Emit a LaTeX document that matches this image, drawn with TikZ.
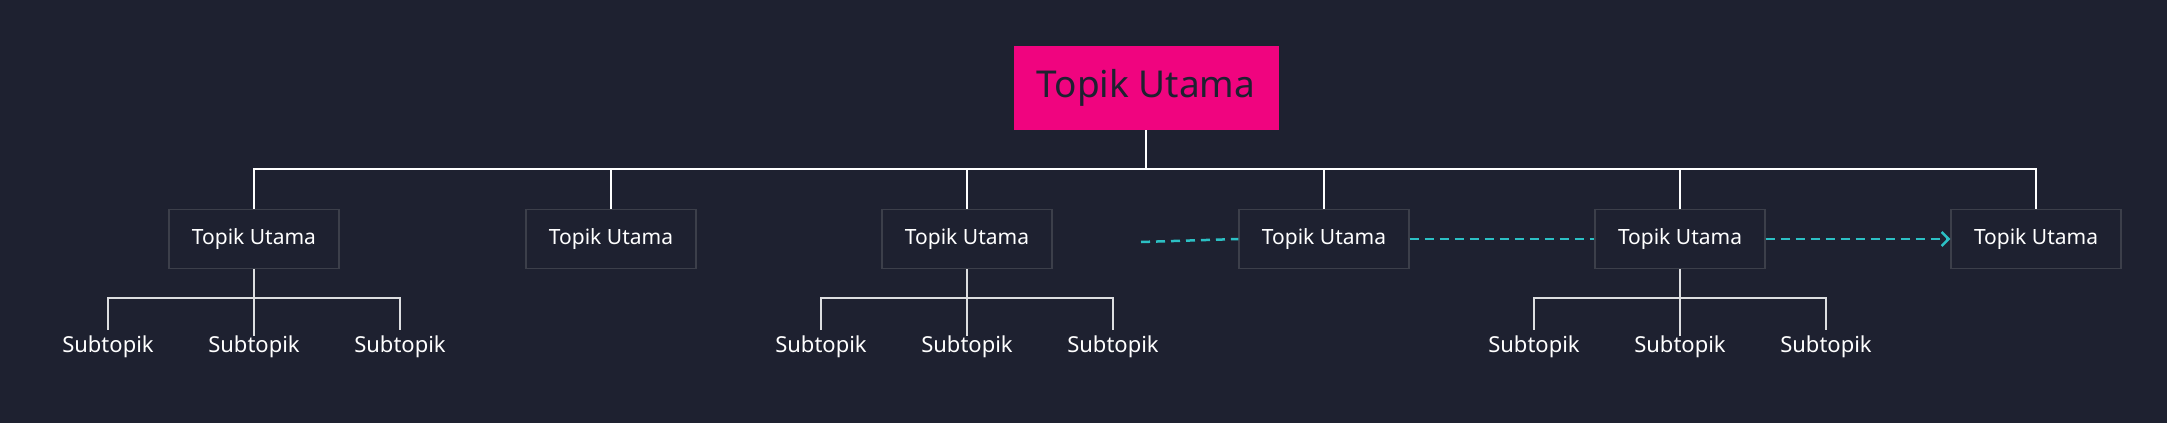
\documentclass[tikz,border=0pt]{standalone}
\usepackage{fontspec}
\setmainfont{Noto Sans}
\usetikzlibrary{arrows.meta}
\definecolor{bg}{HTML}{1E2130}
\definecolor{mag}{HTML}{F0047F}
\definecolor{teal}{HTML}{2CC0C4}
\definecolor{bord}{HTML}{3C3F4A}
\begin{document}
\begin{tikzpicture}[x=1pt,y=-1pt,
  root/.style={fill=mag,text=bg,minimum width=265pt,minimum height=84pt,inner sep=0pt,font=\fontsize{37}{40}\selectfont},
  child/.style={draw=bord,line width=1.2pt,fill=bg,text=white,minimum width=170pt,minimum height=59pt,inner sep=0pt,font=\fontsize{21}{24}\selectfont},
  sub/.style={text=white,inner sep=0pt,font=\fontsize{22}{24}\selectfont},
  tree/.style={white,line width=2.5pt},
  subl/.style={white!85!bg,line width=1.5pt},
  tealdash/.style={teal,line width=2.5pt,dash pattern=on 9pt off 6pt}]
\fill[bg] (0,0) rectangle (2167,423);
\useasboundingbox (0,0) rectangle (2167,423);
\node[root] (r) at (1146,88) {Topik Utama};
\foreach \i/\x in {1/254,2/611,3/967,4/1324,5/1680,6/2036}{
  \node[child] (c\i) at (\x,239) {Topik Utama};
  \draw[tree] (r.south) -- (1146,169) -| (c\i.north);
}
\foreach \i/\x in {1/254,3/967,5/1680}{
  \foreach \j/\d in {a/-146,b/0,c/146}{
    \node[sub] (s\i\j) at (\x+\d,347) {Subtopik};
  }
  \draw[subl] (c\i.south) -- (s\i b.north);
  \draw[subl] (s\i a.north) ++(0,-6) |- (\x,298) -| ([yshift=6pt]s\i c.north);
}
\coordinate (d0) at (1141,242);
\draw[tealdash] (d0) -- (c4.west);
\draw[tealdash] (c4.east) -- (c5.west);
\draw[tealdash,-{Straight Barb[length=7pt,width=14pt]}] (c5.east) -- (c6.west);
\end{tikzpicture}
\end{document}
